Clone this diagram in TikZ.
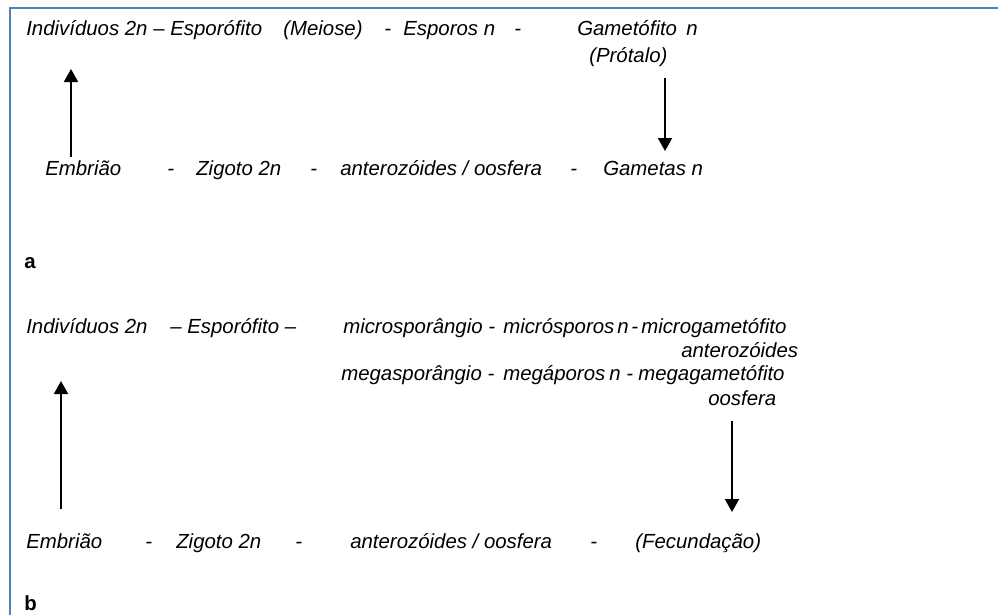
\documentclass[tikz,border=0pt]{standalone}
\usepackage{fontspec}
\setmainfont{Liberation Sans}
\usetikzlibrary{arrows.meta}
\definecolor{frameblue}{RGB}{79,129,189}
\tikzset{
  lbl/.style={anchor=base west,inner sep=0pt,font=\fontsize{15.3pt}{18pt}\selectfont\itshape},
  tag/.style={anchor=base west,inner sep=0pt,font=\fontsize{15.3pt}{18pt}\selectfont\bfseries},
  flow/.style={line width=1.5pt,-{Triangle[length=9.75pt,width=10.5pt]}},
  frame/.style={frameblue,line width=1.5pt}
}
\begin{document}
\begin{tikzpicture}[x=0.75pt,y=-0.75pt]
\useasboundingbox (0,0) rectangle (998,615);
\draw[frame] (10,615) -- (10,8) -- (998,8);
% ---- part a ----
\node[lbl] (a1) at (26,35) {Indivíduos 2n – Esporófito};
\node[lbl] (a2) at (283,35) {(Meiose)};
\node[lbl] (a3) at (384,35) {-};
\node[lbl] (a4) at (403,35) {Esporos n};
\node[lbl] (a5) at (514,35) {-};
\node[lbl] (a6) at (577,35) {Gametófito};
\node[lbl] (a7) at (686,35) {n};
\node[lbl] (a8) at (589,62) {(Prótalo)};
\node[lbl] (a9) at (45,175) {Embrião};
\node[lbl] (a10) at (167,175) {-};
\node[lbl] (a11) at (196,175) {Zigoto 2n};
\node[lbl] (a12) at (310,175) {-};
\node[lbl] (a13) at (340,175) {anterozóides / oosfera};
\node[lbl] (a14) at (570,175) {-};
\node[lbl] (a15) at (603,175) {Gametas n};
\node[tag] (la) at (24,268) {a};
\coordinate (aup0) at (71,157);
\coordinate (aup1) at (71,69);
\coordinate (adn0) at (665,78);
\coordinate (adn1) at (665,151);
\draw[flow] (aup0) -- (aup1);
\draw[flow] (adn0) -- (adn1);
% ---- part b ----
\node[lbl] (b1) at (26,333) {Indivíduos 2n};
\node[lbl] (b2) at (170,333) {– Esporófito –};
\node[lbl] (b3) at (343,333) {microsporângio -};
\node[lbl] (b4) at (503,333) {micrósporos};
\node[lbl] (b4n) at (617,333) {n};
\node[lbl] (b4d) at (631,333) {-};
\node[lbl] (b5) at (641,333) {microgametófito};
\node[lbl] (b6) at (681,357) {anterozóides};
\node[lbl] (b7) at (341,380) {megasporângio -};
\node[lbl] (b8) at (503,380) {megáporos};
\node[lbl] (b9) at (609,380) {n};
\node[lbl] (b10) at (626,380) {-};
\node[lbl] (b11) at (638,380) {megagametófito};
\node[lbl] (b12) at (708,405) {oosfera};
\node[lbl] (b13) at (26,548) {Embrião};
\node[lbl] (b14) at (145,548) {-};
\node[lbl] (b15) at (176,548) {Zigoto 2n};
\node[lbl] (b16) at (295,548) {-};
\node[lbl] (b17) at (350,548) {anterozóides / oosfera};
\node[lbl] (b18) at (590,548) {-};
\node[lbl] (b19) at (635,548) {(Fecundação)};
\node[tag] (lb) at (24,610) {b};
\coordinate (bup0) at (61,509);
\coordinate (bup1) at (61,381);
\coordinate (bdn0) at (732,421);
\coordinate (bdn1) at (732,512);
\draw[flow] (bup0) -- (bup1);
\draw[flow] (bdn0) -- (bdn1);
\end{tikzpicture}
\end{document}
